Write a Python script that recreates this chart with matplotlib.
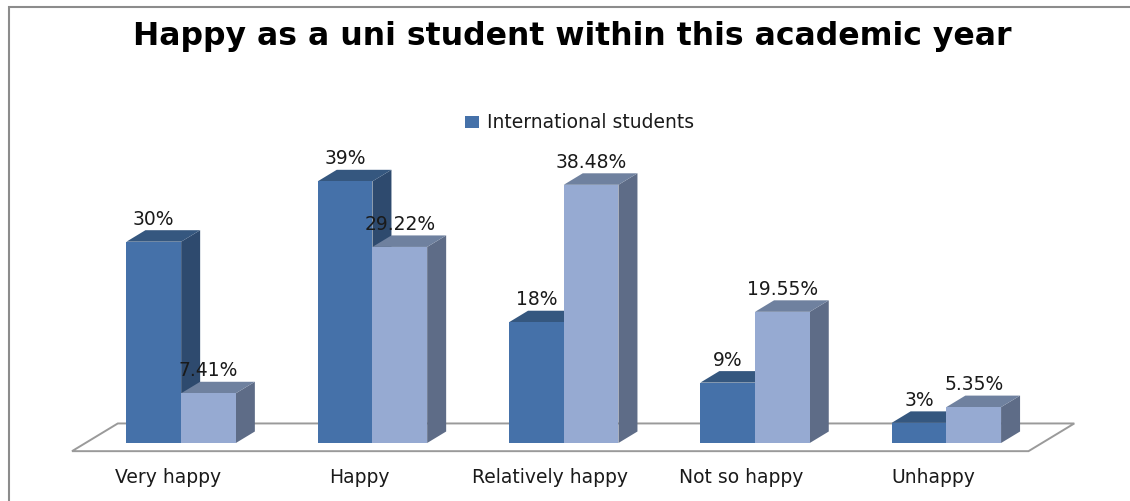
import matplotlib.pyplot as plt
from matplotlib.patches import Polygon, Rectangle, Patch

categories = ["Very happy", "Happy", "Relatively happy", "Not so happy", "Unhappy"]
international = [30, 39, 18, 9, 3]
all_students = [7.41, 29.22, 38.48, 19.55, 5.35]
legend_labels = ["International students"]

# face colours: front, top, side
DARK = ("#4571a9", "#35577f", "#2e4a6e")
LIGHT = ("#96aad2", "#6f819f", "#5e6c87")

W, H = 1130, 501
fig = plt.figure(figsize=(W / 100, H / 100), dpi=100)
fig.patch.set_facecolor("white")

# axes: x in category units, y in percent
ax = fig.add_axes([85.5 / W, 58 / H, 956.5 / W, 335.5 / H])
ax.set_xlim(-0.5, len(categories) - 0.5)
ax.set_ylim(0, 50)
ax.axis("off")

# depth vector of the 3-D extrusion, in data units
DX = 19 / 191.3
DY = 11.5 / 6.71
BW = 0.286

# floor plate
f0, f1 = -0.71, 1.7
x0, x1 = -0.5, len(categories) - 0.5
floor = Polygon([(x0 + f0 * DX, f0 * DY), (x1 + f0 * DX, f0 * DY),
                 (x1 + f1 * DX, f1 * DY), (x0 + f1 * DX, f1 * DY)],
                closed=True, facecolor="white", edgecolor="#9a9a9a",
                lw=1.4, clip_on=False, zorder=1)
ax.add_patch(floor)


def bar3d(left, h, colors, z):
    front, top, side = colors
    right = left + BW
    ax.add_patch(Polygon([(right, 0), (right + DX, DY), (right + DX, h + DY), (right, h)],
                         closed=True, facecolor=side, edgecolor="none", clip_on=False, zorder=z))
    ax.add_patch(Polygon([(left, h), (right, h), (right + DX, h + DY), (left + DX, h + DY)],
                         closed=True, facecolor=top, edgecolor="none", clip_on=False, zorder=z))
    ax.bar(left, h, width=BW, align="edge", color=front, edgecolor="none",
           clip_on=False, zorder=z)


FS = 13.5
z = 2
for i, (a, b) in enumerate(zip(international, all_students)):
    bar3d(i - BW, a, DARK, z)
    bar3d(i, b, LIGHT, z + 1)
    z += 2
    for left, v in ((i - BW, a), (i, b)):
        ax.text(left + BW / 2, v + DY + 0.2, f"{v:g}%", ha="center", va="bottom",
                fontsize=FS, color="#1a1a1a", zorder=20)
    ax.text(i + f0 * DX, -5.2, categories[i], ha="center", va="center",
            fontsize=FS, color="#1a1a1a", zorder=20)

fig.text(572 / W, 1 - 44.5 / H, "Happy as a uni student within this academic year",
         ha="center", va="baseline", fontsize=22.7, fontweight="bold",
         family="DejaVu Sans", color="black")

fig.legend(handles=[Patch(facecolor=DARK[0], edgecolor="none")], labels=legend_labels,
           loc="center", bbox_to_anchor=(579.5 / W, 1 - 123 / H), frameon=False,
           fontsize=FS, handlelength=0.75, handleheight=0.55, handletextpad=0.4,
           labelcolor="#1a1a1a")

# chart area border
fig.add_artist(Rectangle((9 / W, -0.1), 1.1, 1.1 - 7 / H, transform=fig.transFigure,
                         facecolor="none", edgecolor="#8c8c8c", lw=1.5))

fig.savefig("out.png", dpi=100)
